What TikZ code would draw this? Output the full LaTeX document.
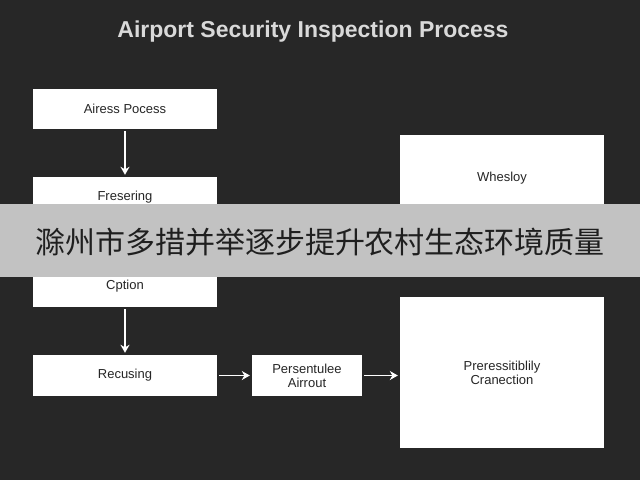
\documentclass[tikz,border=0pt]{standalone}
\usepackage{fontspec}
\setmainfont{Liberation Sans}
\newfontfamily\cjk{Noto Sans CJK SC}
\usetikzlibrary{arrows.meta}
\definecolor{bg}{HTML}{272727}
\definecolor{band}{HTML}{C2C2C2}
\begin{document}
\begin{tikzpicture}[x=1pt,y=-1pt,
  box/.style={draw=none,fill=white,inner sep=0pt,font=\fontsize{13}{14}\selectfont,text=black!85,align=center},
  arr/.style={draw=white,line width=1.4pt,shorten <=2pt,shorten >=2pt,-{Stealth[length=8pt,width=9pt]}}]
\fill[bg] (0,0) rectangle (640,480);
\useasboundingbox (0,0) rectangle (640,480);
\node[text=white!85!black,font=\fontsize{23}{25}\selectfont\bfseries] (title) at (313,32) {Airport Security Inspection Process};
\node[box,minimum width=184pt,minimum height=40pt] (a) at (125,109) {Airess Pocess};
\node[box,minimum width=184pt,minimum height=41pt] (b) at (125,197.5) {Fresering};
\node[box,minimum width=184pt,minimum height=41pt] (c) at (125,286.5) {Cption};
\node[box,minimum width=184pt,minimum height=41pt] (d) at (125,375.5) {Recusing};
\node[box,minimum width=110pt,minimum height=41pt] (e) at (307,375.5) {Persentulee\\Airrout};
\node[box,minimum width=204pt,minimum height=86pt] (w) at (502,178) {Whesloy};
\node[box,minimum width=204pt,minimum height=151pt] (p) at (502,372.5) {Preressitiblily\\Cranection};
\draw[arr] (a) -- (b);
\draw[arr] (b) -- (c);
\draw[arr] (c) -- (d);
\draw[arr] (d) -- (e);
\draw[arr] (e.east) -- (e.east -| p.west);
\fill[band] (0,204) rectangle (640,277);
\node[font=\cjk\fontsize{30}{32}\selectfont,text=black!88] (banner) at (320,242) {滁州市多措并举逐步提升农村生态环境质量};
\end{tikzpicture}
\end{document}
